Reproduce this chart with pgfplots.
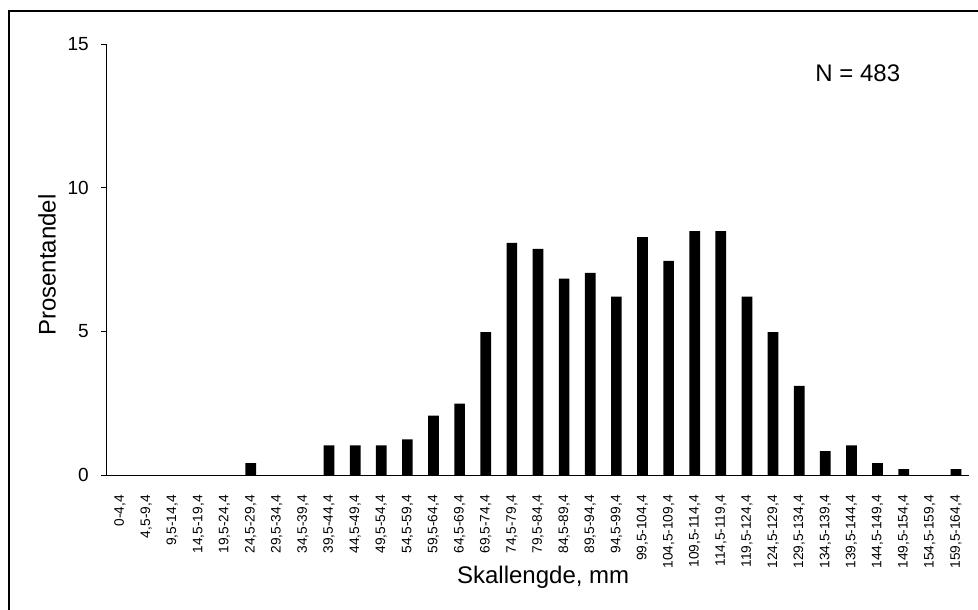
\documentclass[border=0pt]{standalone}
\usepackage{fontspec}
\setmainfont{Liberation Sans}
\usepackage{pgfplots}
\pgfplotsset{compat=1.18}
\begin{document}
\begin{tikzpicture}
\useasboundingbox (0,0) rectangle (733.5pt,-457.5pt);
\draw[line width=1.5pt] (6.5pt,-470pt) -- (6.5pt,-8.5pt) -- (745pt,-8.5pt);
\begin{axis}[
  at={(80.25pt,-356.25pt)}, anchor=south west,
  scale only axis, width=646.5pt, height=323.25pt,
  xmin=-0.5, xmax=32.5, ymin=0, ymax=15,
  axis x line*=bottom, axis y line*=left,
  axis line style={-, line width=0.75pt, black},
  tick align=outside,
  major tick length=4.5pt,
  minor tick length=3.75pt,
  ytick={0,5,10,15},
  ytick style={line width=0.75pt, black},
  /pgf/number format/assume math mode=true,
  yticklabel style={font=\fontsize{14.25}{17}\selectfont, inner sep=0pt, xshift=-9pt},
  xtick={0,...,32},
  xtick style={draw=none},
  minor xtick={-0.5,0.5,...,32.5},
  minor x tick style={line width=0.75pt, black},
  xticklabels={{0-4,4},{4,5-9,4},{9,5-14,4},{14,5-19,4},{19,5-24,4},{24,5-29,4},{29,5-34,4},{34,5-39,4},{39,5-44,4},{44,5-49,4},{49,5-54,4},{54,5-59,4},{59,5-64,4},{64,5-69,4},{69,5-74,4},{74,5-79,4},{79,5-84,4},{84,5-89,4},{89,5-94,4},{94,5-99,4},{99,5-104,4},{104,5-109,4},{109,5-114,4},{114,5-119,4},{119,5-124,4},{124,5-129,4},{129,5-134,4},{134,5-139,4},{139,5-144,4},{144,5-149,4},{149,5-154,4},{154,5-159,4},{159,5-164,4}},
  xticklabel style={font=\fontsize{10.3}{12}\selectfont, yshift=-10.5pt, rotate=90, anchor=east, inner sep=0pt},
  ylabel={Prosentandel},
  ylabel style={font=\fontsize{18}{21}\selectfont, at={(axis description cs:-0.0696,0.487)}, anchor=center, rotate=0},
  xlabel={Skallengde, mm},
  xlabel style={font=\fontsize{18}{21}\selectfont, at={(axis description cs:0.506,-0.237)}, anchor=center},
  clip=false,
]
\addplot[ybar, bar width=0.41, fill=black, draw=none] coordinates {
(0,0) (1,0) (2,0) (3,0) (4,0) (5,0.414) (6,0) (7,0)
(8,1.035) (9,1.035) (10,1.035) (11,1.242) (12,2.070) (13,2.484)
(14,4.969) (15,8.075) (16,7.867) (17,6.832) (18,7.039) (19,6.211)
(20,8.282) (21,7.453) (22,8.489) (23,8.489) (24,6.211) (25,4.969)
(26,3.106) (27,0.828) (28,1.035) (29,0.414) (30,0.207) (31,0) (32,0.207)
};
\node[font=\fontsize{18}{21}\selectfont, anchor=center] at (axis description cs:0.871,0.933) {N = 483};
\end{axis}
\end{tikzpicture}
\end{document}
